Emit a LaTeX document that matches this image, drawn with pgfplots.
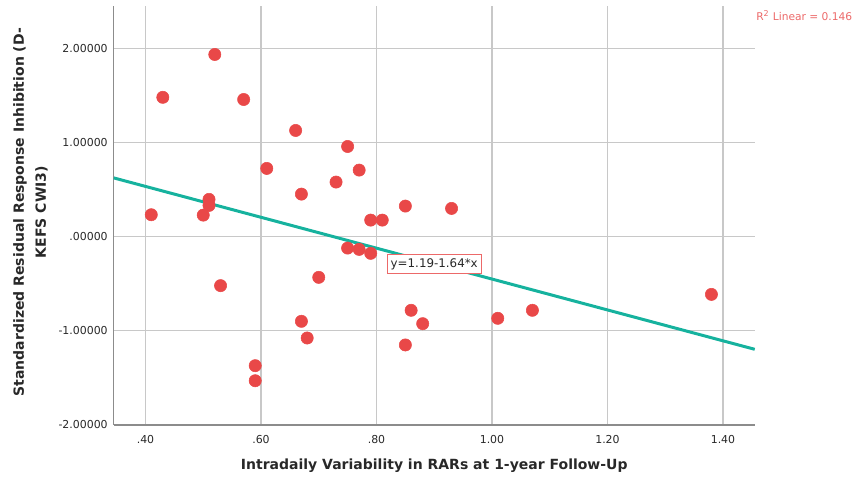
\documentclass[border=0pt]{standalone}
\usepackage{pgfplots}
\pgfplotsset{compat=1.18}
\usepackage{pgfplotstable}
\usepackage{fontspec}
\setmainfont{DejaVu Sans}
\definecolor{dotred}{RGB}{233,72,72}
\definecolor{fitteal}{RGB}{22,178,158}
\definecolor{gridgray}{RGB}{200,200,200}
\definecolor{axgray}{RGB}{140,140,140}
\definecolor{labred}{RGB}{236,105,105}
\definecolor{txtgray}{RGB}{40,40,40}
\pgfplotstableread{
x y
0.41 0.233
0.43 1.48
0.52 1.935
0.57 1.457
0.66 1.128
0.75 0.958
0.61 0.725
0.77 0.707
0.73 0.580
0.67 0.452
0.51 0.396
0.51 0.332
0.50 0.229
0.85 0.325
0.79 0.176
0.81 0.176
0.93 0.300
0.75 -0.121
0.77 -0.135
0.79 -0.177
0.70 -0.432
0.53 -0.520
0.67 -0.899
0.68 -1.076
0.59 -1.370
0.59 -1.530
0.86 -0.782
0.88 -0.924
0.85 -1.150
1.01 -0.867
1.07 -0.782
1.38 -0.613
}\scatterdata
\begin{document}
\begin{tikzpicture}
\begin{axis}[
  name=ax,
  scale only axis,
  width=480.75pt, height=314.25pt,
  xmin=0.345, xmax=1.455,
  ymin=-2, ymax=2.45,
  axis x line*=bottom, axis y line*=left,
  axis line style={axgray, line width=1.1pt, -},
  xtick={0.4,0.6,0.8,1.0,1.2,1.4},
  xticklabels={.40,.60,.80,1.00,1.20,1.40},
  ytick={-2,-1,0,1,2},
  yticklabels={-2.00000,-1.00000,.00000,1.00000,2.00000},
  major tick length=0pt,
  grid=major,
  major grid style={gridgray, line width=0.8pt},
  tick label style={font=\fontsize{8.2}{10}\selectfont, text=txtgray},
  xticklabel style={yshift=-4pt},
  yticklabel style={xshift=-1pt},
  xlabel={Intradaily Variability in RARs at 1-year Follow-Up},
  ylabel={Standardized Residual Response Inhibition (D-\\KEFS CWI3)},
  xlabel style={at={(axis description cs:0.5,-0.098)}, anchor=center, font=\fontsize{10.5}{12}\bfseries, text=txtgray},
  ylabel style={at={(axis description cs:-0.130,0.508)}, anchor=center, align=center, font=\fontsize{10.5}{16.5}\selectfont\bfseries, text=txtgray},
  clip=false,
]
\addplot[fitteal, line width=2.25pt] coordinates {(0.345,0.6242) (1.455,-1.1962)};
\addplot[only marks, mark=*, mark size=4.6pt, mark options={fill=dotred, draw=dotred}] table[x=x,y=y] {\scatterdata};
\node[draw=labred, fill=white, text=txtgray, font=\fontsize{8.9}{10}\selectfont, inner sep=2.8pt, line width=0.6pt] at (axis cs:0.90,-0.289) {y=1.19-1.64*x};
\node[anchor=west, text=labred, font=\fontsize{8}{9}\selectfont, inner sep=0pt] at (axis description cs:1.002,0.977) {R\textsuperscript{2} Linear = 0.146};
\coordinate (sw) at (axis description cs:0,0);
\coordinate (ne) at (axis description cs:1,1);
\end{axis}
\pgfresetboundingbox
\useasboundingbox ([xshift=-85.3pt,yshift=-39pt]sw) rectangle ([xshift=75.2pt,yshift=4.5pt]ne);
\end{tikzpicture}
\end{document}
